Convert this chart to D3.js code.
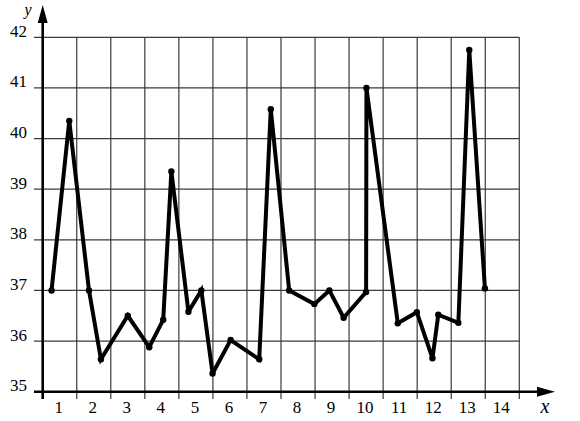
<!DOCTYPE html>
<html>
<head>
<meta charset="utf-8">
<script src="https://cdn.jsdelivr.net/npm/d3@7"></script>
<style>
  html, body { margin: 0; padding: 0; background: #fff; }
  svg { display: block; }
  text { font-family: "Liberation Serif", "DejaVu Serif", serif; }
</style>
</head>
<body>
<svg id="chart" width="580" height="421"></svg>
<script>
// Data
const xValues = [0.76, 1.28, 1.86, 2.21, 3.0, 3.63, 4.04, 4.28, 4.78, 5.16, 5.49, 6.02, 6.86, 7.20,
                 7.74, 8.48, 8.92, 9.34, 10.0, 10.01, 10.93, 11.49, 11.95, 12.12, 12.71, 13.03, 13.49];
const yValues = [37.0, 40.35, 37.0, 35.64, 36.5, 35.88, 36.42, 39.35, 36.58, 37.0, 35.36, 36.02, 35.64, 40.58,
                 37.0, 36.73, 37.0, 36.46, 36.97, 41.0, 36.35, 36.57, 35.66, 36.52, 36.36, 41.75, 37.04];
const xTickLabels = [1, 2, 3, 4, 5, 6, 7, 8, 9, 10, 11, 12, 13, 14];
const yTickLabels = [35, 36, 37, 38, 39, 40, 41, 42];
const xGridValues = d3.range(0.5, 15, 1);
const points = xValues.map((x, i) => ({ x, y: yValues[i] }));

const svg = d3.select("#chart");
const x = d3.scaleLinear().domain([0.5, 14.5]).range([42.7, 519.3]);
const y = d3.scaleLinear().domain([35, 42]).range([391.7, 37.3]);

const gridColor = "#3a3a3a";

// Horizontal grid lines (extend left as ticks)
svg.append("g").selectAll("line").data(yTickLabels.filter(v => v > 35)).join("line")
  .attr("x1", 34).attr("x2", x(14.5))
  .attr("y1", d => y(d)).attr("y2", d => y(d))
  .attr("stroke", gridColor).attr("stroke-width", 1.2);

// Vertical grid lines (extend below as ticks)
svg.append("g").selectAll("line").data(xGridValues.filter(v => v > 0.5)).join("line")
  .attr("x1", d => x(d)).attr("x2", d => x(d))
  .attr("y1", y(42)).attr("y2", 399)
  .attr("stroke", gridColor).attr("stroke-width", 1.2);

// Axes
svg.append("line")
  .attr("x1", 34).attr("x2", 540).attr("y1", y(35)).attr("y2", y(35))
  .attr("stroke", "#000").attr("stroke-width", 2.6);
svg.append("line")
  .attr("x1", x(0.5)).attr("x2", x(0.5)).attr("y1", 399).attr("y2", 20)
  .attr("stroke", "#000").attr("stroke-width", 2.6);

// Arrow heads
const x0 = x(0.5), yb = y(35);
svg.append("path")
  .attr("d", `M${x0},5 L${x0 - 5},23 L${x0 + 5},23 Z`).attr("fill", "#000");
svg.append("path")
  .attr("d", `M555,${yb} L537,${yb - 5} L537,${yb + 5} Z`).attr("fill", "#000");

// Axis titles
svg.append("text").attr("x", 28).attr("y", 15).attr("text-anchor", "middle")
  .attr("font-style", "italic").attr("font-size", 16).text("y");
svg.append("text").attr("x", 545).attr("y", 413).attr("text-anchor", "middle")
  .attr("font-style", "italic").attr("font-size", 20).text("x");

// Tick labels
svg.append("g").selectAll("text").data(yTickLabels).join("text")
  .attr("x", 27).attr("y", d => y(d) - 0.5).attr("text-anchor", "end")
  .attr("font-size", 17).text(d => d);
svg.append("g").selectAll("text").data(xTickLabels).join("text")
  .attr("x", d => x(d) - 1).attr("y", 413).attr("text-anchor", "middle")
  .attr("font-size", 17).text(d => d);

// Data line
const line = d3.line().x(d => x(d.x)).y(d => y(d.y));
svg.append("path").datum(points)
  .attr("d", line).attr("fill", "none").attr("stroke", "#000")
  .attr("stroke-width", 4).attr("stroke-linejoin", "miter").attr("stroke-miterlimit", 3);
svg.append("g").selectAll("circle").data(points).join("circle")
  .attr("cx", d => x(d.x)).attr("cy", d => y(d.y)).attr("r", 3.2).attr("fill", "#000");
</script>
</body>
</html>
